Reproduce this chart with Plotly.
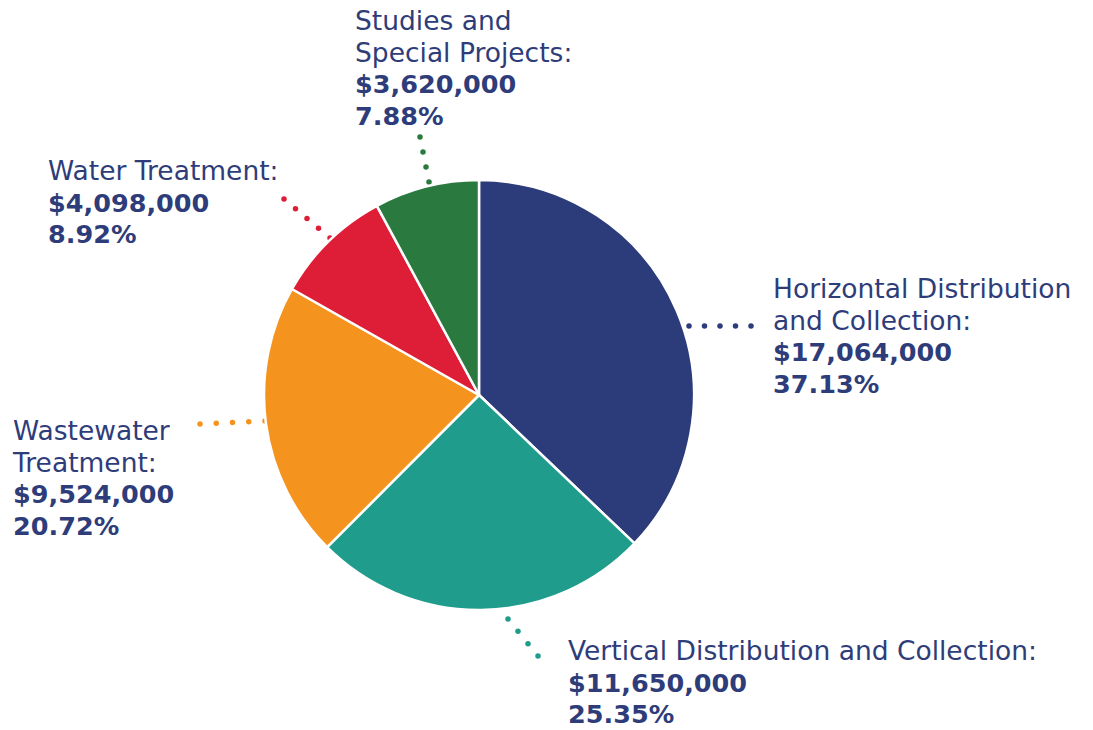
import plotly.graph_objects as go

# Capital program budget by category
categories = [
    "Horizontal Distribution<br>and Collection:",
    "Vertical Distribution and Collection:",
    "Wastewater<br>Treatment:",
    "Water Treatment:",
    "Studies and<br>Special Projects:",
]
amounts = [17064000, 11650000, 9524000, 4098000, 3620000]
percents = [37.13, 25.35, 20.72, 8.92, 7.88]
colors = ["#2c3b79", "#1f9c8c", "#f5931f", "#de1e37", "#2a793e"]

TEXT_COLOR = "#2e3d7a"
FONT = "DejaVu Sans"
BASE_SIZE = 24.3    # sets the line pitch (1.3 x size)
NAME_SIZE = 26.5
VALUE_SIZE = 25.5
W, H = 1093, 730

# label anchor: left edge and top of text block, in pixels
label_pos = [(772, 272), (567, 634), (11, 414), (47, 154), (354, 4)]
# leader dots: start, end, count
leaders = [
    ((689, 326), (751, 326), 5),
    ((508, 619), (538, 656), 4),
    ((200, 424), (265, 421), 5),
    ((284, 199), (330, 238), 5),
    ((420, 137), (429, 182), 4),
]

fig = go.Figure()

fig.add_trace(go.Pie(
    values=amounts,
    labels=[c.replace("<br>", " ") for c in categories],
    marker=dict(colors=colors, line=dict(color="white", width=2.5)),
    sort=False,
    direction="clockwise",
    rotation=0,
    textinfo="none",
    hoverinfo="skip",
    showlegend=False,
    domain=dict(x=[(479 - 215) / W, (479 + 215) / W],
                y=[(H - 610) / H, (H - 180) / H]),
))

# dotted leader lines
for (p0, p1, n), col in zip(leaders, colors):
    xs = [p0[0] + (p1[0] - p0[0]) * i / (n - 1) for i in range(n)]
    ys = [p0[1] + (p1[1] - p0[1]) * i / (n - 1) for i in range(n)]
    fig.add_trace(go.Scatter(
        x=xs, y=ys, mode="markers",
        marker=dict(color=col, size=5.5, line=dict(width=0)),
        hoverinfo="skip", showlegend=False,
    ))

# labels: plain name lines, bold amount and share
for cat, amt, pct, (lx, ly) in zip(categories, amounts, percents, label_pos):
    name_lines = [f'<span style="font-size:{NAME_SIZE}px">{t}</span>'
                  for t in cat.split("<br>")]
    value_lines = [
        f'<span style="font-size:{VALUE_SIZE}px;font-weight:700">${amt:,.0f}</span>',
        f'<span style="font-size:{VALUE_SIZE}px;font-weight:700">{pct:.2f}%</span>',
    ]
    fig.add_annotation(
        x=lx, y=ly, xref="x", yref="y",
        xanchor="left", yanchor="top", align="left",
        text="<br>".join(name_lines + value_lines), showarrow=False,
        font=dict(family=FONT, size=BASE_SIZE, color=TEXT_COLOR),
        borderpad=0,
    )

fig.update_layout(
    width=W, height=H,
    margin=dict(l=0, r=0, t=0, b=0),
    paper_bgcolor="white", plot_bgcolor="white",
    xaxis=dict(range=[0, W], visible=False, fixedrange=True),
    yaxis=dict(range=[H, 0], visible=False, fixedrange=True),
)

fig.write_html("out.html")
